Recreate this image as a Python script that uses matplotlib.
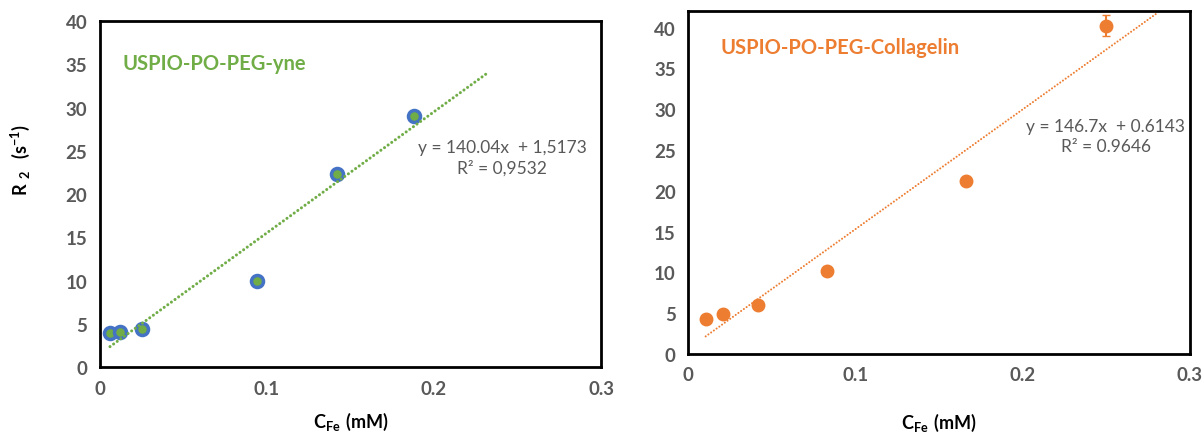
import matplotlib
matplotlib.use("Agg")
import matplotlib.pyplot as plt
import numpy as np

plt.rcParams["font.family"] = ["Lato", "DejaVu Sans"]
plt.rcParams["mathtext.fontset"] = "custom"
plt.rcParams["mathtext.bf"] = "Lato:bold"
plt.rcParams["mathtext.rm"] = "Lato:bold"

# left panel: USPIO-PO-PEG-yne
yne_x = [0.006, 0.012, 0.025, 0.094, 0.142, 0.188]
yne_y = [3.9, 4.1, 4.4, 10.0, 22.3, 29.0]
yne_fit = (140.04, 1.5173)
yne_fit_range = (0.006, 0.233)

# right panel: USPIO-PO-PEG-Collagelin
col_x = [0.0105, 0.021, 0.042, 0.083, 0.166, 0.250]
col_y = [4.3, 4.9, 6.0, 10.2, 21.2, 40.2]
col_err = [0, 0, 0, 0, 0, 1.3]
col_fit = (146.7, 0.6143)
col_fit_range = (0.0105, 0.281)

xticks = [0, 0.1, 0.2, 0.3]
xticklabels = ["0", "0.1", "0.2", "0.3"]
yticks = list(range(0, 41, 5))

GREEN = "#70AD47"
BLUE = "#4472C4"
ORANGE = "#ED7D31"
GRAY = "#595959"

fig = plt.figure(figsize=(12.03, 4.35), dpi=100)
ax1 = fig.add_axes([0.0831, 0.154, 0.4165, 0.795])
ax2 = fig.add_axes([0.572, 0.184, 0.417, 0.788])

def style(ax, ylim):
    ax.set_xlim(0, 0.3)
    ax.set_ylim(0, ylim)
    ax.set_xticks(xticks, labels=xticklabels, fontweight="bold")
    ax.set_yticks(yticks, labels=[str(v) for v in yticks], fontweight="bold")
    ax.tick_params(length=0, labelsize=13.5, labelcolor=GRAY, pad=9)
    for s in ax.spines.values():
        s.set_linewidth(2)
        s.set_color("black")

xlab = r"$\mathbf{C_{Fe}\ (mM)}$"

# left
style(ax1, 40)
xf = np.array(yne_fit_range)
ax1.plot(xf, yne_fit[0] * xf + yne_fit[1], color=GREEN, lw=2.2,
         linestyle=(0, (0.01, 1.45)), dash_capstyle="round", zorder=3)
ax1.scatter(yne_x, yne_y, s=75, facecolor=GREEN, edgecolor=BLUE, linewidth=2.5, zorder=2)
ax1.text(0.045, 0.88, "USPIO-PO-PEG-yne", transform=ax1.transAxes,
         color=GREEN, fontsize=14.5, fontweight="bold", va="center")
ax1.text(0.803, 0.607, "y = 140.04x  + 1,5173\nR² = 0,9532", transform=ax1.transAxes,
         color=GRAY, fontsize=12.5, ha="center", va="center", linespacing=1.3)
ax1.set_xlabel(xlab, fontsize=13, labelpad=10)
ax1.set_ylabel(r"$\mathbf{R\ _{2}\ \ (s^{-1})}$", fontsize=13)
ax1.yaxis.set_label_coords(-0.135, 0.6)

# right
style(ax2, 42)
xf = np.array(col_fit_range)
ax2.plot(xf, col_fit[0] * xf + col_fit[1], color=ORANGE, lw=1.5,
         linestyle=(0, (0.01, 1.6)), dash_capstyle="round", zorder=3)
ax2.errorbar(col_x, col_y, yerr=col_err, fmt="o", color=ORANGE, markersize=9,
             ecolor=ORANGE, elinewidth=1.5, capsize=3, zorder=2)
ax2.text(0.065, 0.895, "USPIO-PO-PEG-Collagelin", transform=ax2.transAxes,
         color=ORANGE, fontsize=14.5, fontweight="bold", va="center")
ax2.text(0.833, 0.636, "y = 146.7x  + 0.6143\nR² = 0.9646", transform=ax2.transAxes,
         color=GRAY, fontsize=12.5, ha="center", va="center", linespacing=1.3)
ax2.set_xlabel(xlab, fontsize=13, labelpad=20)

fig.savefig("out.png", dpi=100)
